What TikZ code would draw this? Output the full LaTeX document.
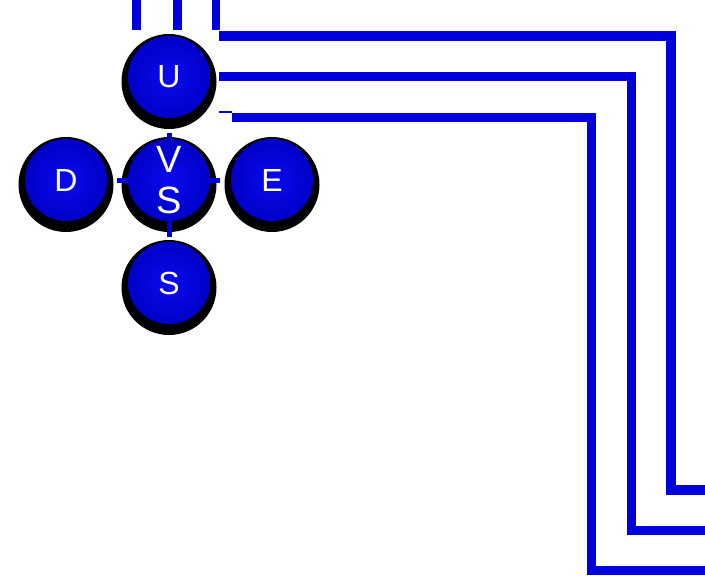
\documentclass[tikz,border=0pt]{standalone}
\usepackage{fontspec}
\setmainfont{Liberation Sans}
\usetikzlibrary{calc}
\pgfdeclarelayer{shadowlayer}
\pgfdeclarelayer{linklayer}
\pgfsetlayers{shadowlayer,linklayer,main}
\definecolor{wireblue}{RGB}{0,0,222}
\definecolor{ballmid}{RGB}{10,10,238}
\definecolor{balledge}{RGB}{0,0,200}
\tikzset{
  ball/.style={circle, minimum size=82pt, inner sep=0pt, text=white,
    shading=radial, inner color=ballmid, outer color=balledge,
    font=\fontsize{32}{38}\selectfont},
  bigball/.style={ball, align=center, font=\fontsize{38}{41}\selectfont},
  wire/.style={draw=wireblue, line width=9.5pt},
  link/.style={draw=wireblue, line width=5pt},
  ballshadow/.style={fill=black}
}
\begin{document}
\begin{tikzpicture}[x=1pt,y=-1pt]
\useasboundingbox (0,0) rectangle (705,576);

% buttons
\node[ball] (U) at (169,77) {U};
\node[ball] (D) at (66,180) {D};
\node[bigball] (VS) at (169,180) {V\\S};
\node[ball] (E) at (272,180) {E};
\node[ball] (S) at (169,283) {S};

% dark rims beneath the buttons
\begin{pgfonlayer}{shadowlayer}
  \foreach \b in {U,D,VS,E,S}
    \fill[ballshadow] ($(\b.center)+(0,4.5)$) circle (47.5pt);
\end{pgfonlayer}

% short links between the buttons
\begin{pgfonlayer}{linklayer}
  \draw[link, shorten <=15pt] (U.south) -- (VS.north);
  \draw[link, shorten <=10pt] (D.east) -- (VS.west);
  \draw[link, shorten >=11pt] (VS.east) -- (E.west);
  \draw[link, shorten >=5pt] (VS.south) -- (S.north);
\end{pgfonlayer}

% wire stubs at the top
\coordinate (t1) at (136,0);
\coordinate (t2) at (177,0);
\coordinate (t3) at (216,0);
\coordinate (b1) at (136,30);
\coordinate (b2) at (177,30);
\coordinate (b3) at (216,30);
\draw[wire, line width=9pt] (t1) -- (b1);
\draw[wire, line width=9pt] (t2) -- (b2);
\draw[wire, line width=8pt] (t3) -- (b3);

% three nested bus wires
\coordinate (w1s) at (219,36);
\coordinate (w1a) at (671,36);
\coordinate (w1b) at (671,490);
\coordinate (w1e) at (705,490);
\draw[wire, line width=10pt] (w1s) -- (w1a) -- (w1b) -- (w1e);

\coordinate (w2s) at (219,76);
\coordinate (w2a) at (631,76);
\coordinate (w2b) at (631,530);
\coordinate (w2e) at (705,530);
\draw[wire, line width=9pt] (w2s) -- (w2a) -- (w2b) -- (w2e);

\coordinate (w3n) at (219,112);
\coordinate (w3s) at (232,117);
\coordinate (w3a) at (591,117);
\coordinate (w3b) at (591,570);
\coordinate (w3e) at (705,570);
\draw[wire, line width=2pt] (w3n) -- (w3n -| w3s);
\draw[wire, line width=9pt] (w3s) -- (w3a) -- (w3b) -- (w3e);
\end{tikzpicture}
\end{document}
